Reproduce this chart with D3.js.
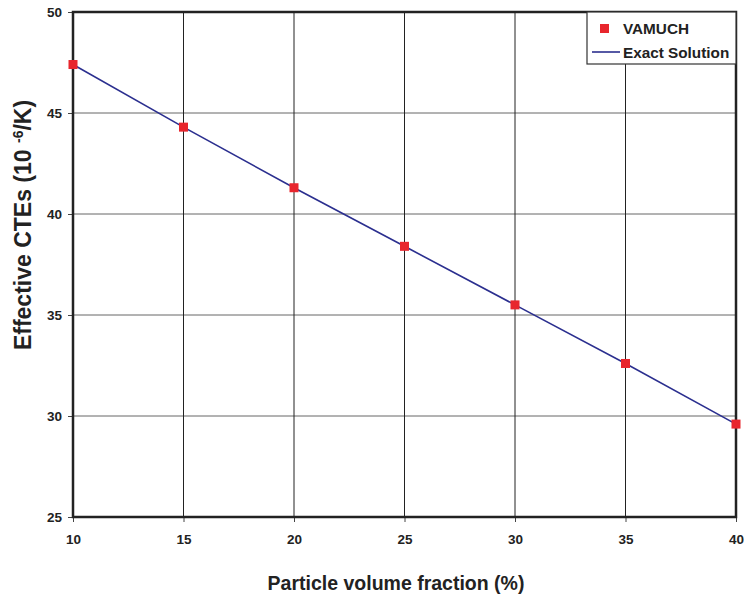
<!DOCTYPE html>
<html>
<head>
<meta charset="utf-8">
<script src="https://cdn.jsdelivr.net/npm/d3@7"></script>
<style>
  body { margin: 0; background: #fff; }
  text { font-family: "Liberation Sans", Arial, sans-serif; font-weight: bold; fill: #222; }
</style>
</head>
<body>
<svg id="chart" width="744" height="597"></svg>
<script>
const fractions = [10, 15, 20, 25, 30, 35, 40];
const vamuch = [47.4, 44.3, 41.3, 38.4, 35.5, 32.6, 29.6];
const exact = [47.4, 44.3, 41.3, 38.4, 35.5, 32.6, 29.6];
const xTicks = [10, 15, 20, 25, 30, 35, 40];
const yTicks = [25, 30, 35, 40, 45, 50];

const svg = d3.select('#chart');
const margin = { left: 73, right: 8, top: 12, bottom: 80 };
const width = 744 - margin.left - margin.right;
const height = 597 - margin.top - margin.bottom;

const x = d3.scaleLinear().domain([10, 40]).range([0, width]);
const y = d3.scaleLinear().domain([25, 50]).range([height, 0]);

const g = svg.append('g')
  .attr('transform', `translate(${margin.left},${margin.top})`);

// grid
g.selectAll('.hgrid').data(yTicks).join('line')
  .attr('x1', 0).attr('x2', width)
  .attr('y1', d => y(d)).attr('y2', d => y(d))
  .attr('stroke', '#666').attr('stroke-width', 1);
g.selectAll('.vgrid').data(xTicks).join('line')
  .attr('y1', 0).attr('y2', height)
  .attr('x1', d => x(d)).attr('x2', d => x(d))
  .attr('stroke', '#222').attr('stroke-width', 1);

// axes
const xAxis = g.append('g')
  .attr('transform', `translate(0,${height})`)
  .call(d3.axisBottom(x).tickValues(xTicks).tickSize(5).tickPadding(12));
const yAxis = g.append('g')
  .call(d3.axisLeft(y).tickValues(yTicks).tickSize(5).tickPadding(6));
[xAxis, yAxis].forEach(a => {
  a.select('.domain').remove();
  a.selectAll('line').attr('stroke', '#444');
  a.selectAll('text').style('font-size', '13.5px').attr('fill', '#222')
    .style('font-family', '"Liberation Sans", Arial, sans-serif').style('font-weight', 'bold');
});

// frame
g.append('rect').attr('x', 0).attr('y', 0).attr('width', width).attr('height', height)
  .attr('fill', 'none').attr('stroke', '#222').attr('stroke-width', 2.5);

// line
const line = d3.line().x((d, i) => x(fractions[i])).y(d => y(d));
g.append('path').datum(exact)
  .attr('d', line).attr('fill', 'none')
  .attr('stroke', '#2b2f8f').attr('stroke-width', 1.6);

// points
g.selectAll('.pt').data(vamuch).join('rect')
  .attr('x', (d, i) => x(fractions[i]) - 4.5)
  .attr('y', d => y(d) - 4.5)
  .attr('width', 9).attr('height', 9)
  .attr('fill', '#e8262d');

// legend
const lg = g.append('g').attr('transform', `translate(${width - 149},0)`);
lg.append('rect').attr('x', 0).attr('y', 0).attr('width', 149).attr('height', 52)
  .attr('fill', '#fff').attr('stroke', '#333').attr('stroke-width', 1.2);
lg.append('rect').attr('x', 13).attr('y', 12).attr('width', 9).attr('height', 9).attr('fill', '#e8262d');
lg.append('text').attr('x', 36).attr('y', 22).style('font-size', '15.3px').text('VAMUCH');
lg.append('line').attr('x1', 5).attr('x2', 33).attr('y1', 40).attr('y2', 40)
  .attr('stroke', '#2b2f8f').attr('stroke-width', 1.6);
lg.append('text').attr('x', 36).attr('y', 46).style('font-size', '15.3px').text('Exact Solution');

// axis labels
svg.append('text')
  .attr('x', 396).attr('y', 590)
  .attr('text-anchor', 'middle').style('font-size', '19.5px')
  .text('Particle volume fraction (%)');

const yl = svg.append('text')
  .attr('transform', `translate(31,225) rotate(-90)`)
  .attr('text-anchor', 'middle').style('font-size', '23px');
yl.append('tspan').text('Effective CTEs (10 ');
yl.append('tspan').attr('dy', -8).style('font-size', '14px').text('-6');
yl.append('tspan').attr('dy', 8).text('/K)');
</script>
</body>
</html>
